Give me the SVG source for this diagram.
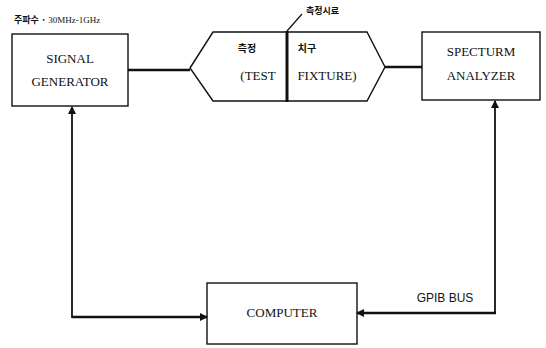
<svg xmlns="http://www.w3.org/2000/svg" width="546" height="348" viewBox="0 0 546 348">
<style>
.box{fill:#fff;stroke:#111;stroke-width:1.4}
.lbl{font-family:"Liberation Serif","Noto Sans CJK KR",serif;font-size:13px;fill:#111;text-anchor:middle}
.kr{font-family:"Noto Sans CJK KR","Liberation Sans",sans-serif;font-size:10px;fill:#111;font-weight:bold}
.con{fill:none;stroke:#111;stroke-width:2.5}
.mid{fill:none;stroke:#111;stroke-width:1.8}
.thin{fill:none;stroke:#111;stroke-width:1.2}
</style>
<defs>
<marker id="ah" markerWidth="8" markerHeight="8" refX="7" refY="4" orient="auto" markerUnits="userSpaceOnUse">
<path d="M0,0 L8,4 L0,8 Z" fill="#111"/>
</marker>
</defs>
<rect width="546" height="348" fill="#fff"/>
<g id="freq-label">
<text x="14" y="23" class="kr" style="font-size:9px">주파수 · <tspan font-family="Liberation Serif" font-weight="normal">30MHz-1GHz</tspan></text>
</g>
<g id="signal-generator">
<rect class="box" x="12" y="34" width="116" height="72"/>
<text class="lbl" x="70" y="63">SIGNAL</text>
<text class="lbl" x="70" y="86">GENERATOR</text>
</g>
<g id="test-fixture">
<polygon class="box" points="190,68 213,32 367,32 385,67 367,101 213,101"/>
<line x1="287" y1="31" x2="287" y2="102" stroke="#111" stroke-width="3"/>
<text class="kr" x="247" y="52" text-anchor="middle">측정</text>
<text class="kr" x="307" y="52" text-anchor="middle">치구</text>
<text class="lbl" x="258" y="80">(TEST</text>
<text class="lbl" x="327" y="80">FIXTURE)</text>
</g>
<g id="sample-label">
<line class="thin" x1="287" y1="31" x2="302" y2="14"/>
<text class="kr" x="306" y="14" style="font-size:9px">측정시료</text>
</g>
<g id="spectrum-analyzer">
<rect class="box" x="422" y="32" width="118" height="68"/>
<text class="lbl" x="481" y="56">SPECTURM</text>
<text class="lbl" x="481" y="80">ANALYZER</text>
</g>
<g id="computer">
<rect class="box" x="207" y="283" width="150" height="61"/>
<text class="lbl" x="282" y="317">COMPUTER</text>
</g>
<g id="connectors">
<line class="con" x1="128" y1="70" x2="190" y2="70"/>
<line class="con" x1="385" y1="67" x2="422" y2="67"/>
<line class="con" x1="72" y1="317" x2="207" y2="317" marker-end="url(#ah)"/>
<line class="mid" x1="72" y1="318" x2="72" y2="107" marker-end="url(#ah)"/>
<line class="con" x1="496" y1="313" x2="357" y2="313" marker-end="url(#ah)"/>
<line class="mid" x1="495" y1="314" x2="495" y2="101" marker-end="url(#ah)"/>
<text class="lbl" x="445" y="302" style="font-family:'Liberation Sans',sans-serif;font-size:12px">GPIB BUS</text>
</g>
</svg>
